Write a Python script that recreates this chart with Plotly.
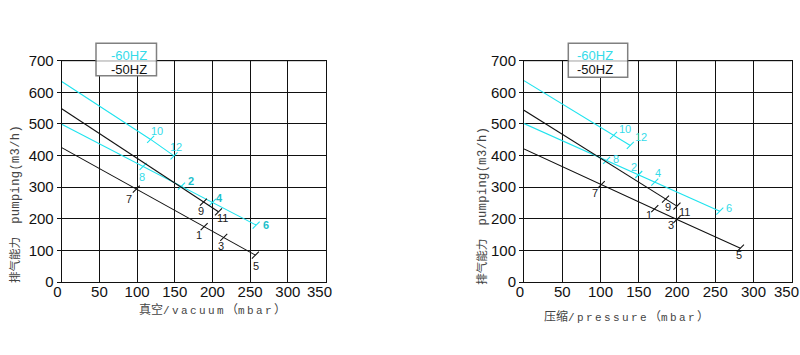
import plotly.graph_objects as go

# ---------------- data ----------------
x_ticks = [0, 50, 100, 150, 200, 250, 300, 350]
y_ticks = [0, 100, 200, 300, 400, 500, 600, 700]

# vacuum chart (left)
vac_60a_x = [0, 118, 149]
vac_60a_y = [634, 451, 399]
vac_60a_lab = ["", "10", "12"]
vac_60b_x = [0, 108, 159, 200, 258]
vac_60b_y = [499, 366, 303, 252, 180]
vac_60b_lab = ["", "8", "2", "4", "6"]
vac_50a_x = [0, 188, 208]
vac_50a_y = [548, 253, 222]
vac_50a_lab = ["", "9", "11"]
vac_50b_x = [0, 99, 189, 215, 257]
vac_50b_y = [425, 294, 175, 141, 85]
vac_50b_lab = ["", "7", "1", "3", "5"]

# pressure chart (right)
pre_60a_x = [0, 117, 139]
pre_60a_y = [637, 464, 432]
pre_60a_lab = ["", "10", "12"]
pre_60b_x = [0, 108, 150, 171, 256]
pre_60b_y = [501, 385, 340, 316, 224]
pre_60b_lab = ["", "8", "2", "4", "6"]
pre_50a_x = [0, 185, 200]
pre_50a_y = [543, 262, 240]
pre_50a_lab = ["", "9", "11"]
pre_50b_x = [0, 101, 171, 200, 283]
pre_50b_y = [421, 308, 232, 198, 107]
pre_50b_lab = ["", "7", "1", "3", "5"]

legend_60 = "-60HZ"
legend_50 = "-50HZ"

# ---------------- style ----------------
W, H = 800, 355
CYAN = "#1fe3ee"
CYAN_TXT = "#35dbe9"
CYAN_DARK = "#1cbfcb"
BLACK = "#111111"

PLOT_TOP, PLOT_BOT = 60.7, 282.0
LEFT_X = (61.7, 325.5)
RIGHT_X = (524.0, 791.7)

# label offsets in px (xshift, yshift)
SHIFT_L = {"10": (6, 8), "12": (2, 9), "8": (-1, -11), "2": (9, 5), "4": (7, 4), "6": (10, 0),
           "7": (-7, -10), "9": (-2, -9), "11": (4, -6), "1": (-5, -8), "3": (-3, -9), "5": (1, -11)}
SHIFT_R = {"10": (12, 6), "12": (11, 8), "8": (9, 1), "2": (-5, 8), "4": (3, 9), "6": (9, 3),
           "7": (-6, -8), "9": (2, -8), "11": (8, -6), "1": (-6, -6), "3": (-6, -6), "5": (-1, -7)}


def px(xp):
    return xp / W


def py(yp):
    return 1 - yp / H


fig = go.Figure()
annotations = []


def add_curve(xs, ys, labs, color, xa, ya, shifts, lab_color, bold_labels=()):
    fig.add_trace(go.Scatter(x=xs, y=ys, mode="lines", line=dict(color=color, width=1.1),
                             xaxis=xa, yaxis=ya, hoverinfo="skip", showlegend=False))
    tx = [x for x, l in zip(xs, labs) if l]
    ty = [y for y, l in zip(ys, labs) if l]
    fig.add_trace(go.Scatter(x=tx, y=ty, mode="markers",
                             marker=dict(symbol="line-ne", size=7, line=dict(color=color, width=1.1)),
                             xaxis=xa, yaxis=ya, hoverinfo="skip", showlegend=False))
    for x, y, l in zip(xs, ys, labs):
        if not l:
            continue
        sx, sy = shifts[l]
        c = lab_color
        t = l
        if l in bold_labels:
            c = CYAN_DARK
            t = "<b>" + l + "</b>"
        annotations.append(dict(x=x, y=y, xref=xa, yref=ya, text=t, showarrow=False,
                                xanchor="center", yanchor="middle",
                                xshift=sx, yshift=sy,
                                font=dict(family="Liberation Sans, Arial", size=11, color=c)))


add_curve(vac_60a_x, vac_60a_y, vac_60a_lab, CYAN, "x", "y", SHIFT_L, CYAN_TXT)
add_curve(vac_60b_x, vac_60b_y, vac_60b_lab, CYAN, "x", "y", SHIFT_L, CYAN_TXT, bold_labels=("2", "4", "6"))
add_curve(vac_50a_x, vac_50a_y, vac_50a_lab, BLACK, "x", "y", SHIFT_L, "#222222")
add_curve(vac_50b_x, vac_50b_y, vac_50b_lab, BLACK, "x", "y", SHIFT_L, "#222222")

add_curve(pre_60a_x, pre_60a_y, pre_60a_lab, CYAN, "x2", "y2", SHIFT_R, CYAN_TXT)
add_curve(pre_60b_x, pre_60b_y, pre_60b_lab, CYAN, "x2", "y2", SHIFT_R, CYAN_TXT)
add_curve(pre_50a_x, pre_50a_y, pre_50a_lab, BLACK, "x2", "y2", SHIFT_R, "#222222")
add_curve(pre_50b_x, pre_50b_y, pre_50b_lab, BLACK, "x2", "y2", SHIFT_R, "#222222")

tick_font = dict(family="Liberation Sans, Arial", size=15, color="#111111")
ydom = [py(PLOT_BOT), py(PLOT_TOP)]

# "0" sits slightly left of its gridline in the reference; the last label ("350")
# is drawn as an annotation nudged left so it stays inside the page
x_ticktext = [str(v) for v in x_ticks]
x_ticktext[0] = x_ticktext[0] + "&nbsp;&nbsp;"
last_tick_text = x_ticktext[-1]
x_ticktext[-1] = ""

xax = dict(range=[0, 350], tickvals=x_ticks, ticktext=x_ticktext,
           showgrid=True, gridcolor=BLACK, gridwidth=1, showline=True, linecolor=BLACK,
           linewidth=1, mirror=True, ticks="", tickfont=tick_font, zeroline=False,
           fixedrange=True, automargin=False, ticklabeloverflow="allow",
           ticklabelstandoff=-4)
yax = dict(range=[0, 700], tickvals=y_ticks, ticktext=[str(v) for v in y_ticks],
           showgrid=True, gridcolor=BLACK, gridwidth=1, showline=True, linecolor=BLACK,
           linewidth=1, mirror=True, ticks="outside", ticklen=4, tickcolor=BLACK,
           tickfont=tick_font, zeroline=False, fixedrange=True, automargin=False,
           ticklabeloverflow="allow")

ann_base = dict(xref="paper", yref="paper", showarrow=False, xanchor="center", yanchor="middle")

for xa, sh in (("x", -6), ("x2", -5)):
    annotations.append(dict(x=x_ticks[-1], xref=xa, y=py(291.0), yref="paper", text=last_tick_text,
                            showarrow=False, xanchor="center", yanchor="middle", xshift=sh,
                            font=tick_font))

shapes = []
for (bx0, bx1, by0, by1, tx, xa, ya) in [(96, 156.5, 43.3, 75.8, 129.3, "x", "y"),
                                          (568.3, 627.7, 43.3, 77.3, 595.0, "x2", "y2")]:
    shapes.append(dict(type="rect", xref="paper", yref="paper", x0=px(bx0), x1=px(bx1),
                       y0=py(by1), y1=py(by0), fillcolor="white",
                       line=dict(color="#808080", width=1.5), layer="above"))
    shapes.append(dict(type="line", xref=xa, yref=ya,
                       x0=0, x1=350, y0=700, y1=700, line=dict(color=BLACK, width=1), layer="above"))
    annotations.append(dict(x=px(tx), y=py(55.0), text=legend_60,
                            font=dict(family="Liberation Sans, Arial", size=13, color=CYAN_TXT), **ann_base))
    annotations.append(dict(x=px(tx), y=py(69.3), text=legend_50,
                            font=dict(family="Liberation Sans, Arial", size=13, color=BLACK), **ann_base))

title_font = dict(family="Liberation Mono, Noto Sans CJK SC", size=11, color="#444444")
ls = "letter-spacing:2.4px"
xt_left = ('<span style="font-size:12px">真空</span><span style="' + ls + '">/vacuum</span>'
           '<span style="font-size:12px">（</span><span style="' + ls + '">mbar</span>'
           '<span style="font-size:12px">）</span>')
xt_right = ('<span style="font-size:12px">压缩</span><span style="' + ls + '">/pressure</span>'
            '<span style="font-size:12px">（</span><span style="' + ls + '">mbar</span>'
            '<span style="font-size:12px">）</span>')
yt = ('<span style="font-size:11.5px">排气能力</span>&nbsp;&nbsp;'
      '<span style="font-size:12px;letter-spacing:0.4px">pumping(m3/h)</span>')

annotations.append(dict(x=px(212), y=py(310.5), text=xt_left, font=title_font, **ann_base))
annotations.append(dict(x=px(626.7), y=py(316.5), text=xt_right, font=title_font, **ann_base))
annotations.append(dict(x=px(15), y=py(204), text=yt, textangle=-90, font=title_font, **ann_base))
annotations.append(dict(x=px(481.7), y=py(206), text=yt, textangle=-90, font=title_font, **ann_base))

fig.update_layout(
    width=W, height=H, margin=dict(l=0, r=0, t=0, b=0, pad=0, autoexpand=False),
    paper_bgcolor="white", plot_bgcolor="white", showlegend=False,
    xaxis=dict(domain=[px(LEFT_X[0]), px(LEFT_X[1])], anchor="y", **xax),
    yaxis=dict(domain=ydom, anchor="x", **yax),
    xaxis2=dict(domain=[px(RIGHT_X[0]), px(RIGHT_X[1])], anchor="y2", **xax),
    yaxis2=dict(domain=ydom, anchor="x2", **yax),
    shapes=shapes, annotations=annotations,
)

fig.write_html("out.html", config={"displayModeBar": False},
               post_script="document.body.style.margin='0';document.body.style.overflow='hidden';")
